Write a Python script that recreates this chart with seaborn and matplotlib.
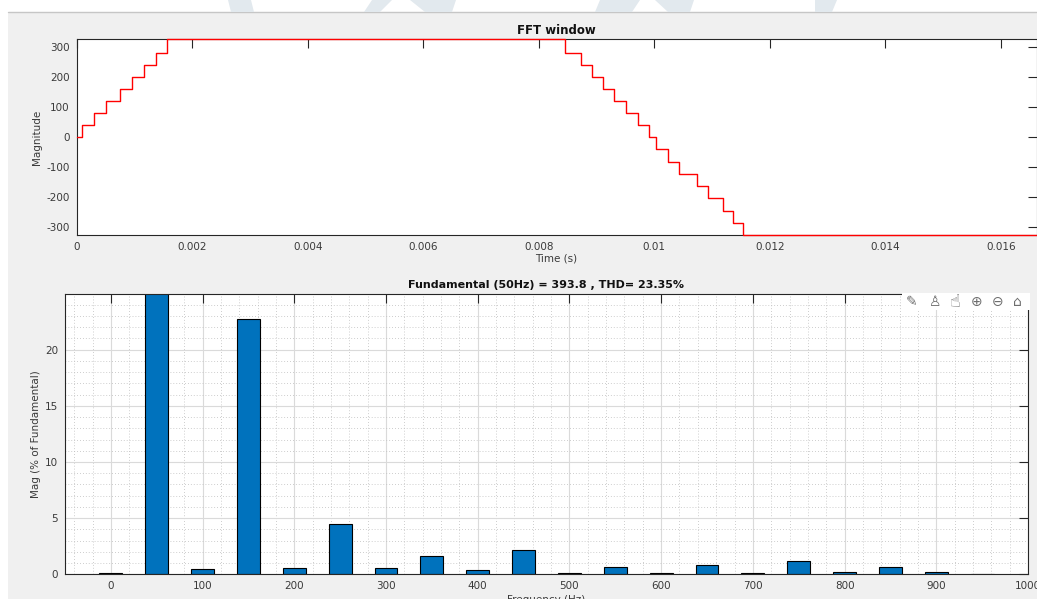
import matplotlib
matplotlib.use("Agg")
import matplotlib.pyplot as plt
from matplotlib.patches import Rectangle, Polygon
from matplotlib.lines import Line2D
from matplotlib.ticker import MultipleLocator, FuncFormatter
import seaborn as sns

# Staircase inverter output over the FFT window (time of each level change, new level)
step_times = [0.0, 0.000100, 0.000308, 0.000507, 0.000755, 0.000961, 0.001162, 0.001370, 0.001564,
              0.008456, 0.008728, 0.008928, 0.009119, 0.009304, 0.009512, 0.009725, 0.009915,
              0.010026, 0.010234, 0.010430, 0.010736, 0.010937, 0.011186, 0.011360, 0.011543,
              0.01662]
step_levels = [0, 40, 80, 120, 160, 200, 240, 280, 325,
               280, 240, 200, 160, 120, 80, 40, 0,
               -38, -81, -123, -163, -203, -246, -284, -325,
               -325]

# Harmonic spectrum (% of fundamental)
harm_freq = [0, 50, 100, 150, 200, 250, 300, 350, 400, 450,
             500, 550, 600, 650, 700, 750, 800, 850, 900, 950]
harm_mag = [0.12, 100.0, 0.47, 22.69, 0.59, 4.45, 0.53, 1.66, 0.35, 2.19,
            0.15, 0.68, 0.08, 0.83, 0.08, 1.15, 0.18, 0.62, 0.23, 0.06]

fundamental_hz = 50
fundamental_mag = 393.8
thd_pct = 23.35

time_ticks = [0, 0.002, 0.004, 0.006, 0.008, 0.010, 0.012, 0.014, 0.016]
mag_ticks = [-300, -200, -100, 0, 100, 200, 300]
freq_ticks = list(range(0, 1001, 100))
pct_ticks = [0, 5, 10, 15, 20]

sns.set_style("white")
plt.rcParams["font.family"] = ["DejaVu Sans"]
plt.rcParams["axes.unicode_minus"] = False

W, H = 1037, 599
fig = plt.figure(figsize=(W / 100, H / 100), dpi=100, facecolor="white")

# grey window panel with a thin top border
fig.add_artist(Rectangle((8 / W, 0), 1 - 8 / W, (H - 12) / H, transform=fig.transFigure,
                         facecolor="#f0f0f0", edgecolor="none", zorder=0))
fig.add_artist(Line2D([8 / W, 1], [(H - 12.3) / H] * 2, transform=fig.transFigure,
                      color="#c6c6c6", lw=1.0, zorder=1))

# faint page watermark strokes above the window
wm = "#e2e9ee"
for pts in ([(228, 0), (251, 0), (254, 12), (231, 12)],
            [(372, 0), (392, 0), (380, 12), (364, 12)],
            [(410, 0), (456, 0), (452, 12), (425, 12)],
            [(600, 0), (640, 0), (632, 12), (595, 12)],
            [(655, 0), (694, 0), (690, 12), (668, 12)],
            [(815, 0), (837, 0), (832, 12), (815, 12)]):
    fig.add_artist(Polygon([(x / W, (H - y) / H) for x, y in pts], closed=True,
                           transform=fig.transFigure, facecolor=wm, edgecolor="none", zorder=1))

tick_col = "#3a3a3a"
spine_col = "#262626"
fs = 7.5


def style_axes(ax):
    ax.set_facecolor("white")
    for s in ax.spines.values():
        s.set_color(spine_col)
        s.set_linewidth(0.8)
        s.set_visible(True)
    ax.tick_params(which="major", direction="in", top=True, right=True, length=6.5,
                   width=0.8, color=spine_col, labelsize=fs, labelcolor=tick_col, pad=5)
    ax.tick_params(which="minor", length=0)


# ---- top: time-domain waveform ----
ax1 = fig.add_axes([76.7 / W, (H - 235) / H, (1036.5 - 76.7) / W, (235 - 39.3) / H])
sns.lineplot(x=step_times, y=step_levels, ax=ax1, color="#ff0000", lw=1.0,
             drawstyle="steps-post", sort=False, estimator=None)
ax1.lines[0].set_zorder(3)
ax1.lines[0].set_clip_on(False)
ax1.set_xlim(0, 0.01662)
ax1.set_ylim(-325, 325)
ax1.set_xticks(time_ticks)
ax1.xaxis.set_major_formatter(FuncFormatter(lambda v, p: f"{v:g}"))
ax1.set_yticks(mag_ticks)
style_axes(ax1)
ax1.set_xlabel("Time (s)", fontsize=fs, color=tick_col, labelpad=1)
ax1.set_ylabel("Magnitude", fontsize=fs, color=tick_col, labelpad=3)
ax1.set_title("FFT window", fontsize=8.5, fontweight="bold", color="#111111", pad=3.5)

# ---- bottom: harmonic spectrum ----
ax2 = fig.add_axes([65 / W, (H - 574.3) / H, 963 / W, 280.3 / H])
sns.barplot(x=harm_freq, y=harm_mag, ax=ax2, native_scale=True, width=0.5,
            color="#0072BD", saturation=1, edgecolor="black", linewidth=0.8,
            errorbar=None, zorder=2)
ax2.set_xlim(-50, 1000)
ax2.set_ylim(0, 1.1 * max(m for f, m in zip(harm_freq, harm_mag) if f != fundamental_hz))
ax2.set_xticks(freq_ticks)
ax2.set_xticklabels([str(v) for v in freq_ticks])
ax2.set_yticks(pct_ticks)
ax2.xaxis.set_minor_locator(MultipleLocator(20))
ax2.yaxis.set_minor_locator(MultipleLocator(1))
ax2.set_axisbelow(True)
ax2.grid(which="minor", color="#bdbdbd", linestyle=(0, (1, 2.5)), linewidth=0.6)
ax2.grid(which="major", color="#dadada", linestyle="-", linewidth=0.8)
style_axes(ax2)
ax2.set_xlabel("Frequency (Hz)", fontsize=fs, color=tick_col, labelpad=3)
ax2.set_ylabel("Mag (% of Fundamental)", fontsize=fs, color=tick_col, labelpad=3)
ax2.set_title(f"Fundamental ({fundamental_hz}Hz) = {fundamental_mag} , THD= {thd_pct}%",
              fontsize=8, fontweight="bold", color="#111111", pad=4)

# axes toolbar overlay at the top-right corner of the spectrum
fig.add_artist(Rectangle((901.5 / W, (H - 310) / H), (1029.5 - 901.5) / W, 17.5 / H,
                         transform=fig.transFigure, facecolor="white", edgecolor="none",
                         zorder=10))
icon_col = "#6e6e6e"
for x, glyph, size in zip([912, 935, 955, 977, 998, 1017],
                          ["✎", "♙", "☝", "⊕", "⊖", "⌂"],
                          [10, 10, 13, 10, 10, 10]):
    fig.text(x / W, (H - 302) / H, glyph, ha="center", va="center", fontsize=size,
             color=icon_col, family=["DejaVu Sans"], zorder=11)

fig.savefig("out.png", dpi=100, facecolor=fig.get_facecolor())
